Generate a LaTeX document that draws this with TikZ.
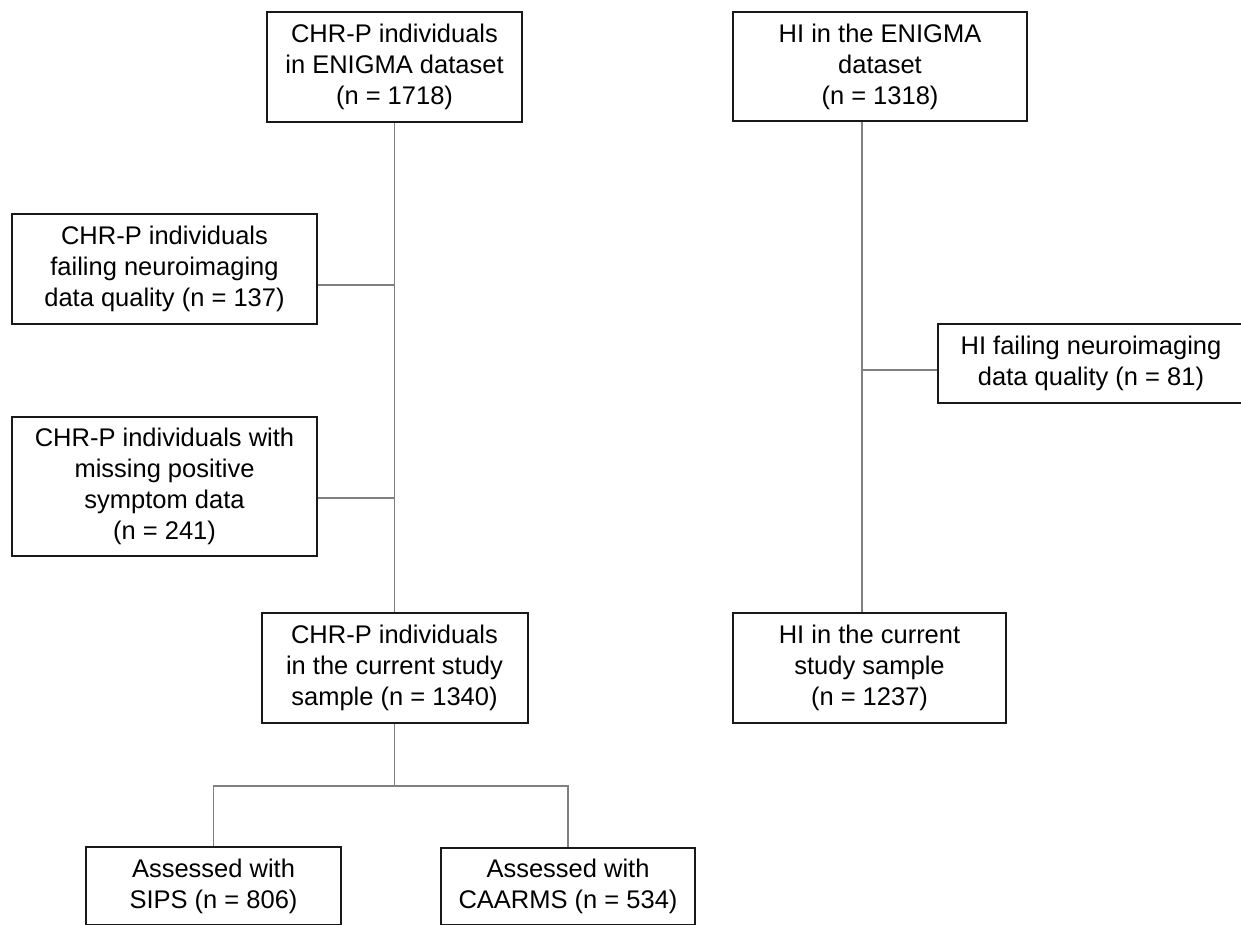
\documentclass[tikz,border=0pt]{standalone}
\usepackage{fontspec}
\setmainfont{Liberation Sans}
\usetikzlibrary{positioning}

\tikzset{
  flowbox/.style={draw=black!90, line width=2pt, rectangle, inner sep=0pt,
    align=center, font=\fontsize{25.5}{31}\selectfont},
  link/.style={draw=black!50, line width=1.5pt}
}

\begin{document}
\begin{tikzpicture}[x=1pt, y=-1pt]

      \clip (0,0) rectangle (1241,924);

      \begin{scope}[every node/.style={flowbox}]
        \node[minimum width=255, minimum height=110] (chrAll)   at (394.5,67)  {CHR-P individuals\\in ENIGMA dataset\\(n = 1718)};
        \node[minimum width=294, minimum height=109] (hiAll)    at (880,66.5)  {HI in the ENIGMA\\dataset\\(n = 1318)};
        \node[minimum width=305, minimum height=110] (chrQc)    at (164.5,269) {CHR-P individuals\\failing neuroimaging\\data quality (n = 137)};
        \node[minimum width=305, minimum height=139] (chrMiss)  at (164.5,486.5) {CHR-P individuals with\\missing positive\\symptom data\\(n = 241)};
        \node[minimum width=306, minimum height=79]  (hiQc)     at (1091,363.5) {HI failing neuroimaging\\data quality (n = 81)};
        \node[minimum width=266, minimum height=110] (chrStudy) at (394.5,668) {CHR-P individuals\\in the current study\\sample (n = 1340)};
        \node[minimum width=273, minimum height=110] (hiStudy)  at (869.5,668) {HI in the current\\study sample\\(n = 1237)};
        \node[minimum width=255, minimum height=78]  (sips)     at (213.5,886) {Assessed with\\SIPS (n = 806)};
        \node[minimum width=254, minimum height=77]  (caarms)   at (568,886.5) {Assessed with\\CAARMS (n = 534)};
      \end{scope}

      \coordinate (qcJoin)   at (394.5,285);
      \coordinate (missJoin) at (394.5,498);
      \coordinate (fork)     at (394.5,786);
      \coordinate (hiSpine)  at (862,370);

      \begin{scope}[every path/.style={link}]
        \path (chrAll.south) -- (chrStudy.north);
        \path (chrQc.east |- qcJoin) -- (qcJoin);
        \path (chrMiss.east |- missJoin) -- (missJoin);
        \path (chrStudy.south) -- (fork);
        \path (sips.north) |- (fork) -| (caarms.north);
        \path (hiAll.south -| hiSpine) -- (hiStudy.north -| hiSpine);
        \path (hiQc.west |- hiSpine) -- (hiSpine);
      \end{scope}

    \end{tikzpicture}
\end{document}
